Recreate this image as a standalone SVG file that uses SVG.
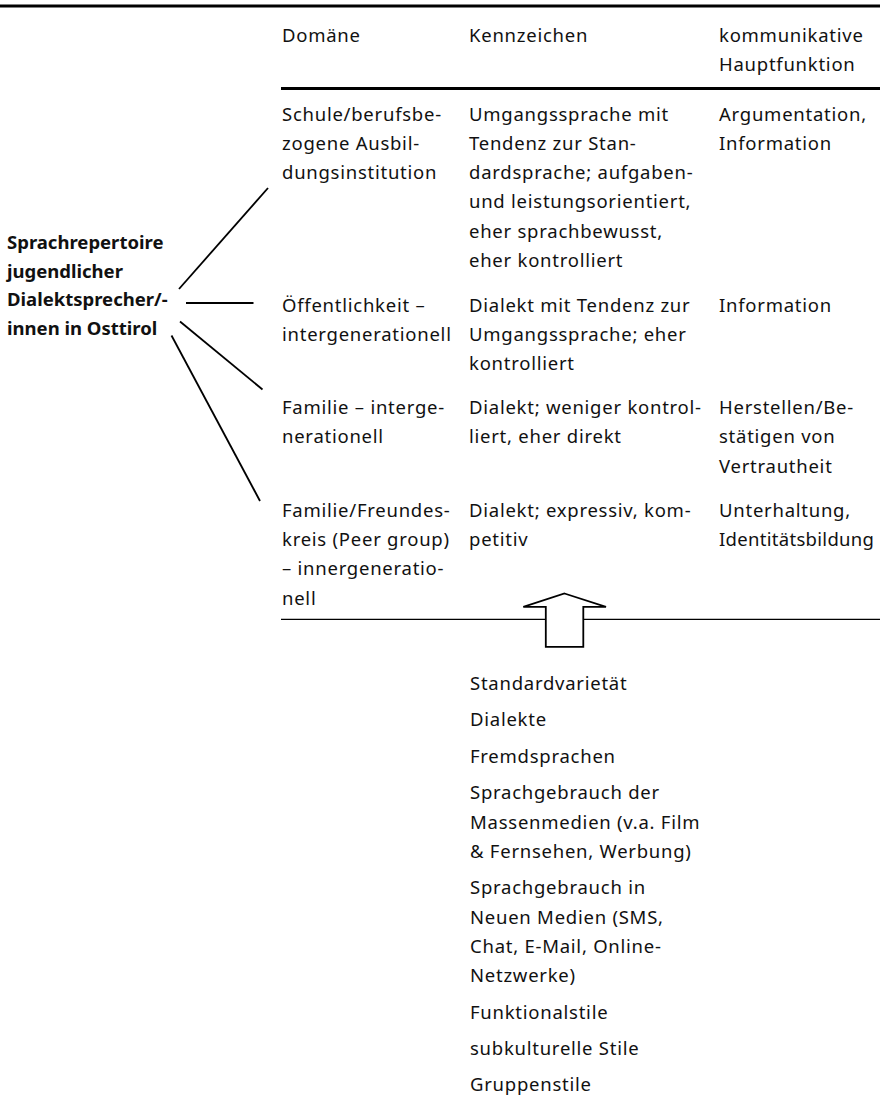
<svg xmlns="http://www.w3.org/2000/svg" width="880" height="1111" viewBox="0 0 880 1111">
  <style>
    text { font-family: "Noto Sans", "Open Sans", sans-serif; font-size: 18.5px; fill: #111; letter-spacing: 0.75px; }
    .bold { font-weight: bold; letter-spacing: 0; }
    .tight { letter-spacing: 0.3px; }
    .rule { stroke: #000; stroke-width: 3; }
    .thin { stroke: #000; stroke-width: 1.3; }
    .conn { stroke: #000; stroke-width: 1.8; fill: none; }
  </style>

  <rect width="880" height="1111" fill="#fff"/>

  <!-- table rules -->
  <line class="rule" x1="0" y1="6" x2="880" y2="6"/>
  <line class="rule" x1="281" y1="88.5" x2="880" y2="88.5"/>
  <line class="thin" x1="281" y1="619.3" x2="880" y2="619.3"/>

  <!-- column headings -->
  <g id="header">
    <text x="282" y="42">Domäne</text>
    <text x="469" y="42">Kennzeichen</text>
    <text x="719" y="42">kommunikative</text>
    <text x="719" y="71.3">Hauptfunktion</text>
  </g>

  <!-- root label -->
  <g id="repertoire">
    <text class="bold" x="7" y="249">Sprachrepertoire</text>
    <text class="bold" x="7" y="277.5">jugendlicher</text>
    <text class="bold" x="7" y="306">Dialektsprecher/-</text>
    <text class="bold" x="7" y="334.5">innen in Osttirol</text>
  </g>

  <!-- connectors from the root label to the domains -->
  <g id="connectors">
    <line class="conn" x1="179" y1="289" x2="268" y2="188"/>
    <line class="conn" x1="186" y1="303" x2="253.5" y2="303"/>
    <line class="conn" x1="180" y1="321.5" x2="262.5" y2="389.5"/>
    <line class="conn" x1="171.5" y1="335.5" x2="260" y2="501"/>
  </g>

  <!-- domain rows -->
  <g id="row-schule">
    <text x="282" y="120.5">Schule/berufsbe-</text>
    <text x="282" y="149.8">zogene Ausbil-</text>
    <text x="282" y="179.1">dungsinstitution</text>
    <text x="469" y="120.5">Umgangssprache mit</text>
    <text x="469" y="149.8">Tendenz zur Stan-</text>
    <text x="469" y="179.1">dardsprache; aufgaben-</text>
    <text x="469" y="208.4">und leistungsorientiert,</text>
    <text x="469" y="237.7">eher sprachbewusst,</text>
    <text x="469" y="267">eher kontrolliert</text>
    <text x="719" y="120.5">Argumentation,</text>
    <text x="719" y="149.8">Information</text>
  </g>

  <g id="row-oeffentlichkeit">
    <text x="282" y="311.5">Öffentlichkeit –</text>
    <text x="282" y="340.8">intergenerationell</text>
    <text x="469" y="311.5">Dialekt mit Tendenz zur</text>
    <text x="469" y="340.8">Umgangssprache; eher</text>
    <text x="469" y="370.1">kontrolliert</text>
    <text x="719" y="311.5">Information</text>
  </g>

  <g id="row-familie">
    <text x="282" y="414">Familie – interge-</text>
    <text x="282" y="443.3">nerationell</text>
    <text x="469" y="414">Dialekt; weniger kontrol-</text>
    <text x="469" y="443.3">liert, eher direkt</text>
    <text x="719" y="414">Herstellen/Be-</text>
    <text x="719" y="443.3">stätigen von</text>
    <text x="719" y="472.6">Vertrautheit</text>
  </g>

  <g id="row-peer">
    <text x="282" y="516.6">Familie/Freundes-</text>
    <text x="282" y="545.9">kreis (Peer group)</text>
    <text x="282" y="575.2">– innergeneratio-</text>
    <text x="282" y="604.5">nell</text>
    <text x="469" y="516.6">Dialekt; expressiv, kom-</text>
    <text x="469" y="545.9">petitiv</text>
    <text x="719" y="516.6">Unterhaltung,</text>
    <text class="tight" x="719" y="545.9">Identitätsbildung</text>
  </g>

  <!-- hollow arrow pointing up into the table -->
  <g id="arrow">
    <polygon points="564.5,593.5 606,606.8 583.3,606.8 583.3,646.8 545.8,646.8 545.8,606.8 523.3,606.8" fill="#fff" stroke="#000" stroke-width="1.8" stroke-linejoin="miter"/>
  </g>

  <!-- sources of the repertoire -->
  <g id="sources">
    <text x="470" y="690">Standardvarietät</text>
    <text x="470" y="726.4">Dialekte</text>
    <text x="470" y="762.8">Fremdsprachen</text>
    <text x="470" y="799.2">Sprachgebrauch der</text>
    <text x="470" y="828.5">Massenmedien (v.a. Film</text>
    <text x="470" y="857.8">&amp; Fernsehen, Werbung)</text>
    <text x="470" y="894.2">Sprachgebrauch in</text>
    <text x="470" y="923.5">Neuen Medien (SMS,</text>
    <text x="470" y="952.8">Chat, E-Mail, Online-</text>
    <text x="470" y="982.1">Netzwerke)</text>
    <text x="470" y="1018.5">Funktionalstile</text>
    <text x="470" y="1054.9">subkulturelle Stile</text>
    <text x="470" y="1091.3">Gruppenstile</text>
  </g>
</svg>
